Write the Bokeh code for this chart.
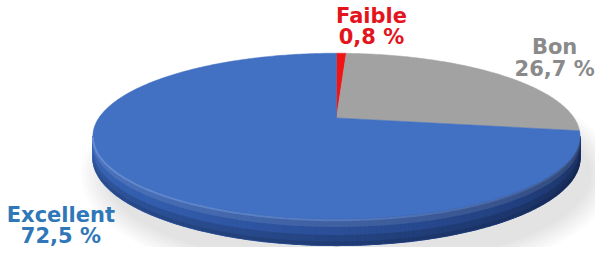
import numpy as np
from bokeh.plotting import figure
from bokeh.models import Range1d
from bokeh.embed import file_html
from bokeh.resources import INLINE
from bokeh.core.properties import value

# ---------------- data ----------------
categories = ["Faible", "Bon", "Excellent"]
percentages = [0.8, 26.7, 72.5]
pct_labels = ["0,8 %", "26,7 %", "72,5 %"]

# ---------------- styles ----------------
top_colors = ["#F01414", "#A2A2A2", "#4270C2"]
label_colors = ["#E3141C", "#8A8A8A", "#2F77B8"]
side_stops = {
    "#4270C2": ["#3B67B8", "#335DAD", "#2B4F98", "#22407F", "#1A3060"],
    "#A2A2A2": ["#9A9A9A", "#8E8E8E", "#808080", "#6E6E6E", "#5A5A5A"],
    "#F01414": ["#D81212", "#C81010", "#B00E0E", "#980C0C", "#800A0A"],
}

# label layout (reference pixel coords: centre x, first-line baseline y)
label_x = [381, 569, 62]
label_y = [16, 50, 228]
line_gap = 23

# ---------------- geometry (reference pixel space) ----------------
CX, CY, A, B, K, T = 345.0, 125.0, 244.0, 84.0, 0.22, 22.0


def proj(theta, drop=0.0):
    w = 1 + K * np.sin(theta)
    return CX + A * np.cos(theta) / w, CY - B * np.sin(theta) / w + drop / w


def lerp_hex(c1, c2, t):
    a = np.array([int(c1[i:i + 2], 16) for i in (1, 3, 5)], float)
    b = np.array([int(c2[i:i + 2], 16) for i in (1, 3, 5)], float)
    c = a + (b - a) * t
    return "#%02x%02x%02x" % tuple(int(round(v)) for v in c)


def stop_color(stops, t):
    n = len(stops) - 1
    pos = min(max(t, 0), 1) * n
    i = min(int(pos), n - 1)
    return lerp_hex(stops[i], stops[i + 1], pos - i)


p = figure(width=595, height=247, output_backend="svg", toolbar_location=None,
           x_range=Range1d(0, 611), y_range=Range1d(263, 0),
           min_border=0, outline_line_color=None)
p.axis.visible = False
p.grid.visible = False
p.background_fill_color = "white"
p.border_fill_color = "white"

# soft shadow
for i in range(7):
    p.ellipse(x=CX + 12, y=CY + 60, width=500 + i * 8, height=196 + i * 7,
              fill_color="#808080", fill_alpha=0.035, line_color=None)

# slice angles (clockwise from 12 o'clock)
vals = np.array(percentages, float)
cum = np.concatenate([[0], np.cumsum(vals) / vals.sum()]) * 2 * np.pi
theta_start = np.pi / 2 - cum[:-1]
theta_end = np.pi / 2 - cum[1:]

# ---------------- side wall ----------------
thL = -np.pi + np.arcsin(K)
thR = -np.arcsin(K)
N = 200
ths = np.linspace(thL, thR, N + 1)


def band_poly(f0, f1, a0=thL, a1=thR, n=200):
    a = np.linspace(a0, a1, n)
    xt, yt = proj(a, T * f0)
    xb, yb = proj(a[::-1], T * f1)
    return np.concatenate([xt, xb]).tolist(), np.concatenate([yt, yb]).tolist()


# base under-layer to hide seams
bx, by = band_poly(0, 1)
p.patch(bx, by, fill_color="#2B4F98", line_color="#2B4F98", line_width=0.5)

xs_list, ys_list, cols = [], [], []
for j in range(N):
    a0, a1 = ths[j], ths[j + 1]
    mid = 0.5 * (a0 + a1)
    phi = (np.pi / 2 - mid) % (2 * np.pi)
    idx = int(np.searchsorted(cum[1:], phi, side="right"))
    idx = min(idx, len(vals) - 1)
    base = top_colors[idx]
    t = (mid - thL) / (thR - thL)
    c = stop_color(side_stops[base], t)
    x00, y00 = proj(a0, 0)
    x10, y10 = proj(a1, 0)
    x11, y11 = proj(a1, T)
    x01, y01 = proj(a0, T)
    xs_list.append([x00, x10, x11, x01])
    ys_list.append([y00, y10, y11, y01])
    cols.append(c)
p.patches(xs=xs_list, ys=ys_list, fill_color=cols, line_color=cols, line_width=1.2)

# vertical shading overlays (continuous, no seams)
ux, uy = band_poly(0, 0.3)
p.patch(ux, uy, fill_color="white", fill_alpha=0.10, line_color=None)
lx, ly = band_poly(0.6, 1.0)
p.patch(lx, ly, fill_color="black", fill_alpha=0.14, line_color=None)
lx2, ly2 = band_poly(0.85, 1.0)
p.patch(lx2, ly2, fill_color="black", fill_alpha=0.10, line_color=None)

# ---------------- top face ----------------
txs, tys, tcols = [], [], []
for i in range(len(vals)):
    n = max(4, int(abs(theta_end[i] - theta_start[i]) / (2 * np.pi) * 400))
    a = np.linspace(theta_start[i], theta_end[i], n)
    x, y = proj(a)
    txs.append(np.concatenate([[CX], x]).tolist())
    tys.append(np.concatenate([[CY], y]).tolist())
    tcols.append(top_colors[i])
p.patches(xs=txs, ys=tys, fill_color=tcols, line_color=tcols, line_width=0.5)

# bevel highlight along front rim
hx, hy, ha = [], [], []
hth = np.linspace(thL, thR, 120)
for j in range(len(hth) - 1):
    x, y = proj(np.array([hth[j], hth[j + 1]]), 1.0)
    hx.append(x.tolist())
    hy.append(y.tolist())
    t = j / (len(hth) - 1)
    ha.append(0.75 * (1 - t) + 0.1)
p.multi_line(xs=hx, ys=hy, line_color="#6E95D8", line_alpha=ha, line_width=2.0)

# ---------------- labels ----------------
p.text(x=label_x, y=label_y, text=categories, text_color=label_colors,
       text_font=value("DejaVu Sans"), text_font_style="bold", text_font_size="21px",
       text_align="center", text_baseline="alphabetic")
p.text(x=label_x, y=[v + line_gap for v in label_y], text=pct_labels, text_color=label_colors,
       text_font=value("DejaVu Sans"), text_font_style="bold", text_font_size="21px",
       text_align="center", text_baseline="alphabetic")

open("out.html", "w").write(file_html(p, INLINE))
